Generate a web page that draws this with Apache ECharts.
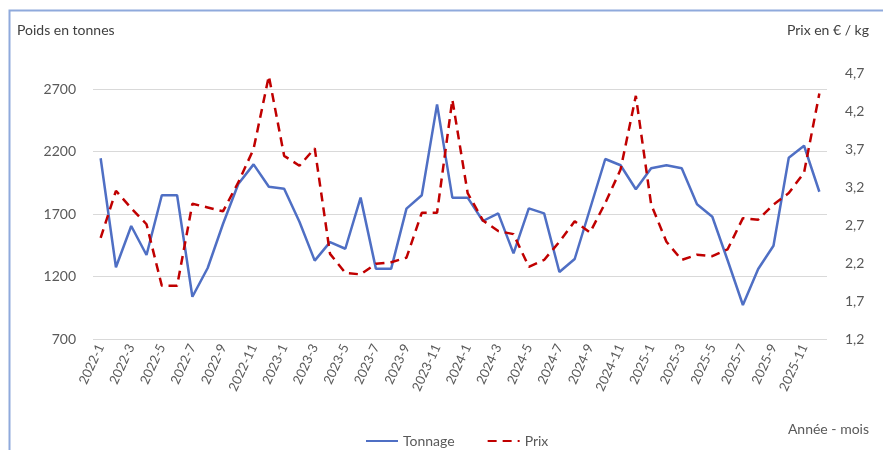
<!DOCTYPE html>
<html>
<head>
<meta charset="utf-8">
<script src="https://cdn.jsdelivr.net/npm/echarts@6/dist/echarts.min.js"></script>
<style>
  html, body { margin: 0; padding: 0; background: #fff; }
  #chart { width: 883px; height: 450px; }
</style>
</head>
<body>
<div id="chart"></div>
<script>
// mois 2022-1 .. 2025-12
var years = [2022, 2023, 2024, 2025];
var months = [];
years.forEach(function (y) {
  for (var m = 1; m <= 12; m++) months.push(y + '-' + m);
});

// tonnage (t)
var tonnage = [2146, 1274, 1604, 1372, 1850, 1850, 1038, 1268, 1620, 1940, 2097, 1918,
               1902, 1638, 1327, 1475, 1422, 1831, 1263, 1263, 1743, 1850, 2577, 1831,
               1831, 1644, 1705, 1385, 1745, 1705, 1236, 1340, 1740, 2140, 2090, 1898,
               2066, 2090, 2066, 1778, 1678, 1330, 972, 1260, 1446, 2150, 2246, 1878];

// prix (€/kg)
var prix = [2.53, 3.15, 2.92, 2.71, 1.90, 1.90, 2.98, 2.93, 2.88, 3.26, 3.70, 4.66,
            3.61, 3.48, 3.71, 2.32, 2.07, 2.05, 2.19, 2.21, 2.27, 2.86, 2.86, 4.35,
            3.12, 2.76, 2.62, 2.58, 2.15, 2.24, 2.48, 2.75, 2.60, 2.99, 3.43, 4.40,
            2.97, 2.48, 2.24, 2.31, 2.29, 2.38, 2.79, 2.77, 2.97, 3.12, 3.39, 4.43];

var leftTicks = { min: 700, max: 2700, step: 500 };
var rightTicks = { min: 1.2, max: 4.7, step: 0.5 };

var font = 'Lato, "Open Sans", sans-serif';
var txt = '#595959';

var chart = echarts.init(document.getElementById('chart'));
chart.setOption({
  animation: false,
  textStyle: { fontFamily: font },
  graphic: [
    { type: 'rect', shape: { x: 9.5, y: 10.5, width: 900, height: 460 },
      style: { fill: 'none', stroke: '#8faadc', lineWidth: 2 } },
    { type: 'text', left: 17, top: 23,
      style: { text: 'Poids en tonnes', fontSize: 14, fill: '#404040', fontFamily: font } },
    { type: 'text', right: 14, top: 23,
      style: { text: 'Prix en € / kg', fontSize: 14, fill: '#404040', fontFamily: font } },
    { type: 'text', right: 14, top: 422,
      style: { text: 'Année - mois', fontSize: 14, fill: txt, fontFamily: font } }
  ],
  legend: {
    left: 360,
    top: 429,
    itemWidth: 32,
    itemHeight: 10,
    itemGap: 32,
    itemStyle: { opacity: 0 },
    textStyle: { color: txt, fontSize: 14, fontFamily: font },
    data: ['Tonnage', 'Prix']
  },
  grid: [
    { left: 93, right: 56, top: 89, bottom: 111 },
    { left: 93, right: 56, top: 73, bottom: 111 }
  ],
  xAxis: [
    {
      type: 'category',
      gridIndex: 0,
      data: months,
      boundaryGap: true,
      axisLine: { show: false },
      axisTick: { show: false },
      axisLabel: { interval: 1, rotate: 65, color: txt, fontSize: 13, margin: 6, fontFamily: font }
    },
    {
      type: 'category',
      gridIndex: 1,
      data: months,
      boundaryGap: true,
      show: false
    }
  ],
  yAxis: [
    {
      type: 'value',
      gridIndex: 0,
      min: leftTicks.min,
      max: leftTicks.max,
      interval: leftTicks.step,
      axisLine: { show: false },
      axisTick: { show: false },
      splitLine: { lineStyle: { color: '#d9d9d9', width: 1 } },
      axisLabel: {
        color: txt, fontSize: 14, margin: 17, fontFamily: font,
        formatter: function (v) { return String(v); }
      }
    },
    {
      type: 'value',
      gridIndex: 1,
      position: 'right',
      min: rightTicks.min,
      max: rightTicks.max,
      interval: rightTicks.step,
      axisLine: { show: false },
      axisTick: { show: false },
      splitLine: { show: false },
      axisLabel: {
        color: txt, fontSize: 14, margin: 18, fontFamily: font,
        formatter: function (v) { return v.toFixed(1).replace('.', ','); }
      }
    }
  ],
  series: [
    {
      name: 'Tonnage',
      type: 'line',
      xAxisIndex: 0,
      yAxisIndex: 0,
      data: tonnage,
      symbol: 'none',
      itemStyle: { color: '#4f6fc4' },
      lineStyle: { color: '#4f6fc4', width: 2.5 }
    },
    {
      name: 'Prix',
      type: 'line',
      xAxisIndex: 1,
      yAxisIndex: 1,
      data: prix,
      symbol: 'none',
      itemStyle: { color: '#c00000' },
      lineStyle: { color: '#c00000', width: 2.5, type: [9, 6] }
    }
  ]
});
</script>
</body>
</html>
